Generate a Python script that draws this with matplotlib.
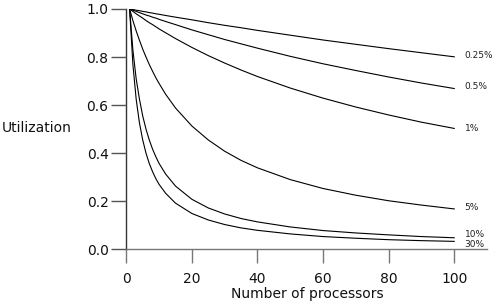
import matplotlib
matplotlib.use("Agg")
import matplotlib.pyplot as plt

# processors (x) and utilization, one list per curve
n = [1, 2, 3, 4, 5, 6, 7, 8, 9, 10, 12, 15, 20, 25, 30, 35, 40, 50, 60, 70, 80, 90, 100]

u_025 = [1.0, 0.998, 0.995, 0.993, 0.990, 0.988, 0.985, 0.983, 0.980, 0.978, 0.973, 0.966,
         0.955, 0.943, 0.932, 0.922, 0.911, 0.891, 0.871, 0.853, 0.835, 0.818, 0.801]
u_05 = [1.0, 0.995, 0.990, 0.985, 0.980, 0.975, 0.971, 0.966, 0.962, 0.957, 0.948, 0.935,
        0.913, 0.893, 0.873, 0.855, 0.837, 0.803, 0.772, 0.744, 0.717, 0.692, 0.669]
u_1 = [1.0, 0.990, 0.980, 0.971, 0.962, 0.952, 0.943, 0.935, 0.926, 0.917, 0.901, 0.877,
       0.840, 0.806, 0.775, 0.746, 0.719, 0.671, 0.629, 0.592, 0.559, 0.529, 0.503]
u_5 = [1.0, 0.952, 0.909, 0.870, 0.833, 0.800, 0.769, 0.741, 0.714, 0.690, 0.645, 0.588,
       0.513, 0.455, 0.408, 0.370, 0.339, 0.290, 0.253, 0.225, 0.202, 0.184, 0.168]
u_10 = [1.0, 0.830, 0.710, 0.625, 0.555, 0.500, 0.455, 0.417, 0.385, 0.357, 0.313, 0.263,
        0.208, 0.172, 0.147, 0.128, 0.114, 0.093, 0.078, 0.068, 0.060, 0.053, 0.048]
u_30 = [1.0, 0.770, 0.625, 0.526, 0.455, 0.400, 0.357, 0.323, 0.294, 0.270, 0.233, 0.192,
        0.149, 0.122, 0.103, 0.089, 0.079, 0.064, 0.053, 0.046, 0.040, 0.036, 0.033]

labels = ["0.25%", "0.5%", "1%", "5%", "10%", "30%"]
series = [u_025, u_05, u_1, u_5, u_10, u_30]

# where the end labels sit (y, data units)
label_y = [0.805, 0.676, 0.501, 0.172, 0.060, 0.022]

plt.rcParams["font.family"] = "DejaVu Sans"

fig = plt.figure(figsize=(4.95, 3.06), dpi=100)
ax = fig.add_axes([0.2552, 0.1853, 0.7287, 0.7853])

for u, lab, ly in zip(series, labels, label_y):
    ax.plot(n, u, color="black", linewidth=0.8)
    ax.text(103.2, ly, lab, fontsize=6.5, va="center", ha="left", color="#222222")

ax.set_xlim(0, 110)
ax.set_ylim(0, 1.0)
ax.set_xticks([0, 20, 40, 60, 80, 100])
ax.set_yticks([0.0, 0.2, 0.4, 0.6, 0.8, 1.0])
ax.set_yticklabels(["0.0", "0.2", "0.4", "0.6", "0.8", "1.0"])

ax.spines["top"].set_visible(False)
ax.spines["right"].set_visible(False)
ax.spines["left"].set_color("#333333")
ax.spines["left"].set_linewidth(1.0)
ax.spines["bottom"].set_color("#777777")
ax.spines["bottom"].set_linewidth(1.0)
ax.spines["left"].set_zorder(0)
ax.spines["bottom"].set_zorder(0)

ax.tick_params(axis="y", direction="out", length=10.8, width=1.0, color="#555555",
               pad=2, labelsize=10, labelcolor="#111111")
ax.tick_params(axis="x", direction="out", length=10, width=1.0, color="#777777",
               pad=6, labelsize=10, labelcolor="#111111")

fig.text(0.004, 0.582, "Utilization", fontsize=10, va="center", ha="left", color="#111111")
fig.text(0.62, 0.04, "Number of processors", fontsize=10, va="center", ha="center",
         color="#111111")

fig.savefig("out.png", dpi=100)
